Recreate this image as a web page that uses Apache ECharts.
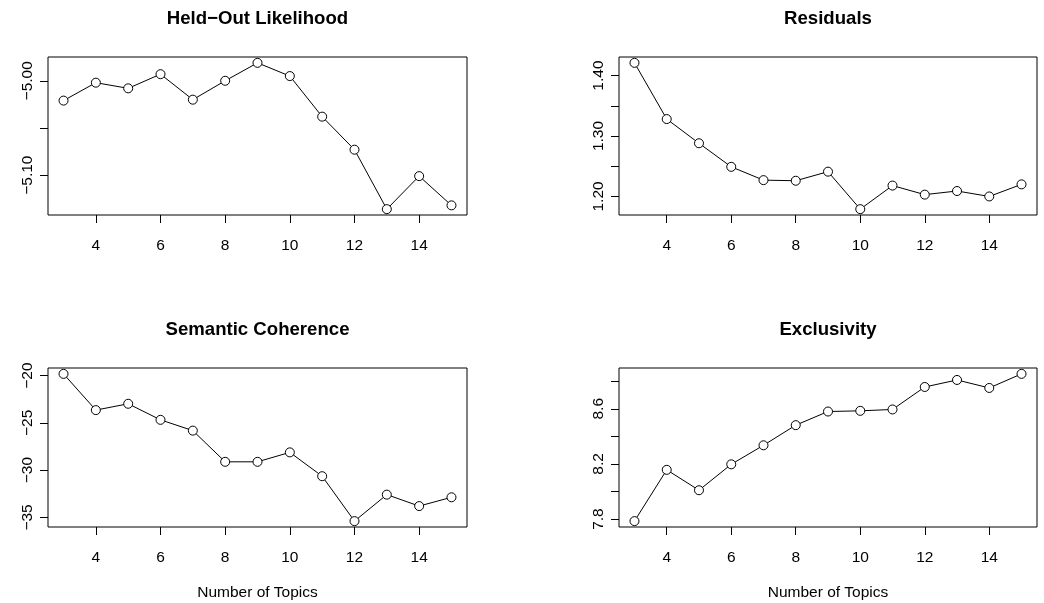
<!DOCTYPE html>
<html>
<head>
<meta charset="utf-8">
<script src="https://cdn.jsdelivr.net/npm/echarts@6/dist/echarts.min.js"></script>
<style>
  html, body { margin: 0; padding: 0; background: #fff; }
  #chart { width: 1044px; height: 603px; }
</style>
</head>
<body>
<div id="chart"></div>
<script>
// number of topics (K) on x
var topics = [3, 4, 5, 6, 7, 8, 9, 10, 11, 12, 13, 14, 15];
var xTicks = [4, 6, 8, 10, 12, 14];

// diagnostics per K
var heldout   = [-5.021, -5.002, -5.008, -4.993, -5.020, -5.000, -4.981, -4.995, -5.038, -5.073, -5.136, -5.101, -5.132];
var residuals = [1.421, 1.328, 1.288, 1.249, 1.227, 1.226, 1.241, 1.179, 1.218, 1.203, 1.209, 1.200, 1.220];
var semcoh    = [-19.82, -23.65, -22.98, -24.68, -25.82, -29.12, -29.12, -28.12, -30.64, -35.39, -32.59, -33.80, -32.87];
var exclus    = [7.785, 8.157, 8.009, 8.197, 8.335, 8.481, 8.580, 8.585, 8.595, 8.758, 8.809, 8.751, 8.853];

// y ticks / which ticks get a label
var heldTicks = [-5.10, -5.05, -5.00], heldLabels = [-5.10, -5.00];
var resTicks  = [1.20, 1.25, 1.30, 1.35, 1.40], resLabels = [1.20, 1.30, 1.40];
var semTicks  = [-35, -30, -25, -20], semLabels = [-35, -30, -25, -20];
var excTicks  = [7.8, 8.0, 8.2, 8.4, 8.6, 8.8], excLabels = [7.8, 8.2, 8.6];

var titles = ['Held\u2212Out Likelihood', 'Residuals', 'Semantic Coherence', 'Exclusivity'];
var xName = 'Number of Topics';

var FONT = 'Liberation Sans, Arial, Helvetica, sans-serif';
var FS = 15.5;

var grids = [
  {left: 48,  top: 57,  width: 419, height: 158},
  {left: 619, top: 57,  width: 418, height: 158},
  {left: 48,  top: 368, width: 419, height: 159},
  {left: 619, top: 368, width: 418, height: 159}
];

// R style 4% padding on both ends
function padMin(v){ return v.min - 0.04 * (v.max - v.min); }
function padMax(v){ return v.max + 0.04 * (v.max - v.min); }

function minus(s){ return s.replace('-', '\u2212'); }

var panels = [
  {data: heldout,   ticks: heldTicks, labels: heldLabels, dec: 2},
  {data: residuals, ticks: resTicks,  labels: resLabels,  dec: 2},
  {data: semcoh,    ticks: semTicks,  labels: semLabels,  dec: 0},
  {data: exclus,    ticks: excTicks,  labels: excLabels,  dec: 1}
];

var option = {
  backgroundColor: '#fff',
  animation: false,
  title: [],
  grid: [],
  xAxis: [],
  yAxis: [],
  series: []
};

panels.forEach(function(p, i){
  var g = grids[i];
  option.grid.push({
    left: g.left, top: g.top, width: g.width, height: g.height,
    show: true, borderColor: '#000', borderWidth: 1, backgroundColor: 'transparent'
  });
  option.title.push({
    text: titles[i],
    left: g.left + g.width / 2,
    top: g.top - 48,
    textAlign: 'center',
    padding: 0,
    textStyle: {fontFamily: FONT, fontSize: 18.6, fontWeight: 'bold', color: '#000'}
  });
  option.xAxis.push({
    type: 'value', gridIndex: i,
    min: padMin, max: padMax,
    name: i >= 2 ? xName : '',
    nameLocation: 'middle', nameGap: 58,
    nameTextStyle: {fontFamily: FONT, fontSize: FS, color: '#000'},
    axisLine: {show: false},
    splitLine: {show: false},
    axisTick: {show: true, length: 8, customValues: xTicks, lineStyle: {color: '#000', width: 1}},
    axisLabel: {show: true, customValues: xTicks, margin: 23, fontFamily: FONT, fontSize: FS, color: '#000'}
  });
  option.yAxis.push({
    type: 'value', gridIndex: i,
    min: padMin, max: padMax,
    axisLine: {show: false},
    splitLine: {show: false},
    axisTick: {show: true, length: 8, customValues: p.ticks, lineStyle: {color: '#000', width: 1}},
    axisLabel: {
      show: true, customValues: p.labels, rotate: 90, margin: 12,
      fontFamily: FONT, fontSize: FS, color: '#000',
      formatter: (function(dec){ return function(v){ return minus(v.toFixed(dec)); }; })(p.dec)
    }
  });
  option.series.push({
    type: 'line', xAxisIndex: i, yAxisIndex: i,
    data: topics.map(function(k, j){ return [k, p.data[j]]; }),
    symbol: 'circle', symbolSize: 9,
    lineStyle: {color: '#000', width: 1},
    itemStyle: {color: '#fff', borderColor: '#000', borderWidth: 1},
    z: 3
  });
});

var chart = echarts.init(document.getElementById('chart'), null, {renderer: 'canvas'});
chart.setOption(option);
</script>
</body>
</html>
